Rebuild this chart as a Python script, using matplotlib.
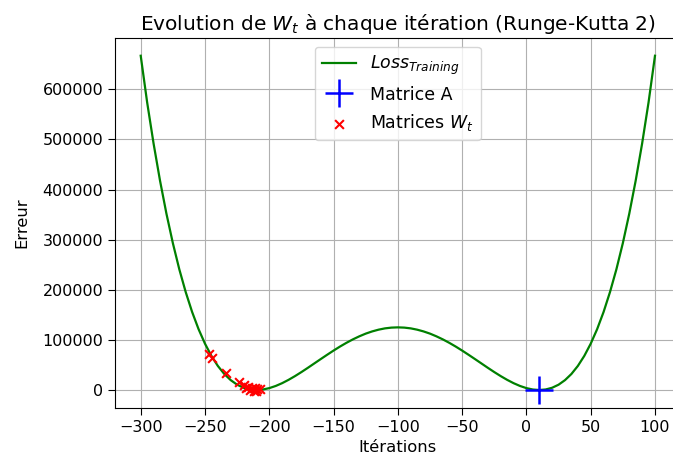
import matplotlib
matplotlib.use("Agg")
import matplotlib.pyplot as plt

# Loss curve
x_loss = [-300, -295, -290, -285, -280, -275, -270, -265, -260, -255,
          -250, -245, -240, -235, -230, -225, -220, -215, -210, -205,
          -200, -195, -190, -185, -180, -175, -170, -165, -160, -155,
          -150, -145, -140, -135, -130, -125, -120, -115, -110, -105,
          -100, -95, -90, -85, -80, -75, -70, -65, -60, -55,
          -50, -45, -40, -35, -30, -25, -20, -15, -10, -5,
          0, 5, 10, 15, 20, 25, 30, 35, 40, 45,
          50, 55, 60, 65, 70, 75, 80, 85, 90, 95, 100]
y_loss = [667000, 574000, 491900, 418000, 351900, 293100, 241000, 195400, 155600, 121400,
          92400, 68000, 48000, 32000, 19700, 10600, 4500, 1080, 0, 990,
          3770, 8080, 13660, 20300, 27750, 35800, 44270, 53000, 61700, 70300,
          78700, 86700, 94150, 101000, 107100, 112500, 116900, 120400, 123000, 124500,
          125000, 124500, 123000, 120400, 116900, 112500, 107100, 101000, 94150, 86700,
          78700, 70300, 61700, 53000, 44270, 35800, 27750, 20300, 13660, 8080,
          3770, 990, 0, 1080, 4500, 10600, 19700, 32000, 48000, 68000,
          92400, 121400, 155600, 195400, 241000, 293100, 351900, 418000, 491900, 574000, 667000]

# Matrix A
x_A = [10]
y_A = [0]

# Iterates W_t
x_W = [-246.8, -244.4, -233.7, -223.4, -219.5, -216.4, -213.2, -210.9, -209.3,
       -218.0, -215.0, -212.0, -210.0, -207.5]
y_W = [71800, 63800, 33300, 15000, 10000, 7000, 5000, 4000, 3000,
       4000, 1000, -1500, -2000, 1500]

fig = plt.figure(figsize=(6.73, 4.58), dpi=100)
ax = fig.add_axes([115/673, 50/458, (680.7-115)/673, (408-38)/458])

ax.plot(x_loss, y_loss, color='green', lw=1.6, label=r'$Loss_{Training}$')
ax.plot(x_A, y_A, '+', color='blue', markersize=20, mew=1.8, label='Matrice A')
ax.scatter(x_W, y_W, marker='x', color='red', s=40, label=r'Matrices $W_t$', zorder=3)

ax.set_xlim(-320, 120)
ax.set_ylim(-35900, 702400)
ax.set_xticks([-300, -250, -200, -150, -100, -50, 0, 50, 100])
ax.set_yticks([0, 100000, 200000, 300000, 400000, 500000, 600000])
ax.ticklabel_format(style='plain', axis='y')
ax.tick_params(labelsize=11.5, length=5, pad=3.5)
ax.grid(True)
ax.set_xlabel('Itérations', fontsize=11.8, labelpad=4)
ax.set_ylabel('Erreur', fontsize=11.8, labelpad=9)
ax.set_title(r'Evolution de $W_t$ à chaque itération (Runge-Kutta 2)', fontsize=14.5)
ax.legend(loc='upper center', fontsize=12.5)

fig.savefig('out.png', dpi=100)
